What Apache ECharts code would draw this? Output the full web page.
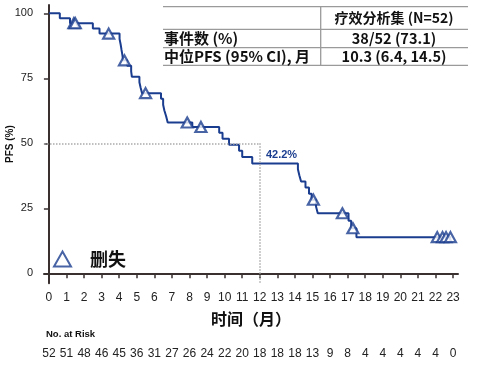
<!DOCTYPE html>
<html>
<head>
<meta charset="utf-8">
<script src="https://cdn.jsdelivr.net/npm/echarts@6/dist/echarts.min.js"></script>
<style>
html,body{margin:0;padding:0;background:#fff;}
#chart{width:489px;height:365px;}
</style>
</head>
<body>
<div id="chart"></div>
<script>
// ---- data ----
const stepTimes = [0, 0.62, 1.2, 2.5, 2.88, 4.02, 4.08, 4.13, 4.18, 4.22, 4.45, 4.68, 4.72, 5.15, 5.22, 5.3, 6.38, 6.5, 6.57, 6.67, 6.76, 8.16, 9.69, 9.88, 10.25, 10.82, 11.0, 11.57, 14.17, 14.25, 14.35, 14.6, 14.8, 14.95, 15.2, 15.3, 17.05, 17.2, 17.5, 22.9];
const stepSurvival = [100, 98.1, 96.2, 94.2, 92.2, 90.1, 88.1, 86.0, 84.0, 81.9, 79.8, 77.7, 75.6, 73.5, 71.4, 69.3, 67.1, 64.8, 62.6, 60.4, 58.0, 56.3, 54.1, 51.8, 49.4, 47.1, 44.7, 42.2, 40.0, 37.7, 35.3, 33.0, 30.6, 28.3, 25.7, 23.1, 20.2, 17.3, 13.9, 13.9];
const censorTimes = [1.42, 1.5, 3.4, 4.3, 5.5, 7.87, 8.65, 15.05, 16.7, 17.3, 22.1, 22.4, 22.6, 22.85];
const censorSurvival = [96.2, 96.2, 92.2, 81.9, 69.3, 58.0, 56.3, 28.3, 23.1, 17.3, 13.9, 13.9, 13.9, 13.9];
const monthTicks = [0,1,2,3,4,5,6,7,8,9,10,11,12,13,14,15,16,17,18,19,20,21,22,23];
const atRisk = [52,51,48,46,45,36,31,27,26,24,22,20,18,18,18,13,9,8,4,4,4,4,4,0];
const yTicks = [0, 25, 50, 75, 100];
const landmarkMonth = 12;
const landmarkValue = 42.2;
const medianRef = 50;
const tableHeader = '疗效分析集 (N=52)';
const tableRows = ['事件数 (%)', '中位PFS (95% CI), 月'];
const tableValues = ['38/52 (73.1)', '10.3 (6.4, 14.5)'];

const BLUE = '#1b3d8f';
const AXIS = '#3a3030';
const NARROW = "'Liberation Sans Narrow','Liberation Sans',Arial,sans-serif";
const CJK = "'Noto Sans CJK SC','Noto Sans',sans-serif";
const X_MIN = -0.28, X_MAX = 23.28, Y_MIN = -3.85, Y_MAX = 103.2;

const chart = echarts.init(document.getElementById('chart'), null, {renderer: 'canvas'});

const lineData = stepTimes.map((t, i) => [t, stepSurvival[i]]);
const censorData = censorTimes.map((t, i) => [t, censorSurvival[i]]);

const tableLeft = 163, tableRight = 468, tableMid = 320.7;
const rowY = [6.7, 29.3, 47.7, 65.3];
const graphics = [];
rowY.forEach(y => graphics.push({type:'line', shape:{x1:tableLeft, y1:y, x2:tableRight, y2:y}, style:{stroke:'#9a9a9a', lineWidth:1.3}}));
graphics.push({type:'line', shape:{x1:tableMid, y1:rowY[0], x2:tableMid, y2:rowY[3]}, style:{stroke:'#9a9a9a', lineWidth:1.3}});
const txt = (s, x, y, align, size) => ({type:'text', x:x, y:y, style:{text:s, fill:'#111', font:"bold " + size + "px " + CJK, textAlign:align, textVerticalAlign:'middle'}});
graphics.push(txt(tableHeader, 394, 18, 'center', 14));
tableRows.forEach((s, i) => graphics.push(txt(s, 164, (rowY[i+1] + rowY[i+2]) / 2, 'left', 15)));
tableValues.forEach((s, i) => graphics.push(txt(s, 394, (rowY[i+1] + rowY[i+2]) / 2, 'center', 14.5)));

const option = {
  animation: false,
  backgroundColor: '#fff',
  grid: {left: 44, right: 31, top: 5, bottom: 81.7, containLabel: false, outerBoundsMode: 'none'},
  title: {text: 'No. at Risk', left: 46, top: 329, padding: 0,
    textStyle: {fontSize: 9.5, fontWeight: 'bold', color: '#111', fontFamily: "'Liberation Sans',Arial,sans-serif"}},
  legend: {
    left: 53, top: 250, itemWidth: 17, itemHeight: 15, padding: 0,
    data: [{name: '删失', icon: 'triangle'}],
    itemStyle: {color: '#ffffff', borderColor: BLUE, borderWidth: 2},
    textStyle: {fontSize: 18, fontWeight: 'bold', color: '#111', fontFamily: CJK, padding: [0, 0, 0, 14]}
  },
  xAxis: [{
    type: 'value', min: X_MIN, max: X_MAX,
    axisLine: {show: true, lineStyle: {color: AXIS, width: 2}},
    axisTick: {show: true, customValues: monthTicks, length: 5, lineStyle: {color: AXIS, width: 1.5}},
    axisLabel: {customValues: monthTicks, margin: 8, fontSize: 12, color: '#222', fontFamily: NARROW},
    splitLine: {show: false},
    name: '时间（月）', nameLocation: 'middle', nameGap: 28,
    nameTextStyle: {fontSize: 16, fontWeight: 'bold', color: '#111', fontFamily: CJK}
  }, {
    type: 'value', min: X_MIN, max: X_MAX, position: 'bottom', offset: 56,
    axisLine: {show: false}, axisTick: {show: false}, splitLine: {show: false},
    axisLabel: {customValues: monthTicks, margin: 8, fontSize: 12, color: '#222', fontFamily: NARROW,
      formatter: v => String(atRisk[monthTicks.indexOf(Math.round(v))])}
  }],
  yAxis: {
    type: 'value', min: Y_MIN, max: Y_MAX,
    axisLine: {show: true, lineStyle: {color: AXIS, width: 2}},
    axisTick: {show: true, customValues: yTicks, length: 5, lineStyle: {color: AXIS, width: 1.5}},
    axisLabel: {customValues: yTicks, margin: 11, fontSize: 11, color: '#222', fontFamily: NARROW},
    splitLine: {show: false},
    name: 'PFS (%)', nameLocation: 'middle', nameGap: 29, nameMoveOverlap: false,
    nameTextStyle: {fontSize: 10, fontWeight: 'bold', color: '#111', fontFamily: "'Liberation Sans',Arial,sans-serif"}
  },
  series: [{
    type: 'line', name: 'PFS', step: 'end', data: lineData, showSymbol: false,
    lineStyle: {color: BLUE, width: 2}, itemStyle: {color: BLUE},
    markLine: {
      silent: true, symbol: 'none', label: {show: false},
      lineStyle: {color: '#aaaaaa', type: 'dotted', width: 1.5},
      data: [
        [{coord: [X_MIN, medianRef]}, {coord: [landmarkMonth, medianRef]}],
        [{coord: [landmarkMonth, medianRef]}, {coord: [landmarkMonth, Y_MIN]}]
      ]
    },
    markPoint: {
      symbol: 'circle', symbolSize: 0,
      data: [{coord: [landmarkMonth + 0.35, landmarkValue + 3.2], value: landmarkValue}],
      label: {show: true, position: 'right', distance: 0, formatter: landmarkValue + '%',
        color: BLUE, fontSize: 11, fontWeight: 'bold', fontFamily: "'Liberation Sans',Arial,sans-serif"}
    }
  }, {
    type: 'scatter', name: '删失', data: censorData, symbol: 'triangle', symbolSize: [11, 10],
    itemStyle: {color: '#ffffff', borderColor: BLUE, borderWidth: 2.2}, z: 5
  }],
  graphic: graphics
};
chart.setOption(option);
</script>
</body>
</html>
